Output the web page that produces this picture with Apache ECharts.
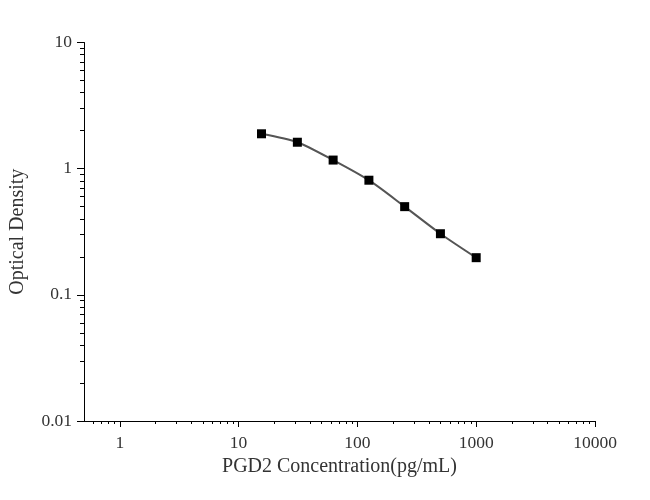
<!DOCTYPE html>
<html>
<head>
<meta charset="utf-8">
<script src="https://cdn.jsdelivr.net/npm/echarts@6/dist/echarts.min.js"></script>
<style>html,body{margin:0;padding:0;background:#fff;}#c{width:650px;height:500px;}</style>
</head>
<body>
<div id="c"></div>
<script>
// Data
var concentrations = [15.6, 31.25, 62.5, 125, 250, 500, 1000];
var odValues = [1.89, 1.62, 1.17, 0.81, 0.50, 0.305, 0.197];
var xMajorTicks = [1, 10, 100, 1000, 10000];
var yMajorTicks = [0.01, 0.1, 1, 10];
var xTickLabels = ['1', '10', '100', '1000', '10000'];
var yTickLabels = ['0.01', '0.1', '1', '10'];

function minorTicks(lo, hi) {
  var out = [];
  for (var d = lo; d < hi; d *= 10) {
    for (var k = 2; k <= 9; k++) {
      var v = +(k * d).toPrecision(6);
      out.push(v);
    }
  }
  return out;
}
var xMinor = minorTicks(0.1, 10000).filter(function (v) { return v > 0.5 && v < 10000; });
var yMinor = minorTicks(0.01, 10);

var serif = 'Liberation Serif';
var chart = echarts.init(document.getElementById('c'));
var axisLineStyle = { color: '#000', width: 1 };
function labelFmt(ticks, labels) {
  return function (v) {
    for (var i = 0; i < ticks.length; i++) {
      if (Math.abs(v - ticks[i]) / ticks[i] < 1e-6) return labels[i];
    }
    return '';
  };
}
chart.setOption({
  animation: false,
  grid: { left: 80, right: 55, top: 42.5, bottom: 79 },
  xAxis: [{
    type: 'log', logBase: 10, min: 0.5, max: 10000,
    name: 'PGD2 Concentration(pg/mL)', nameLocation: 'middle', nameGap: 36,
    nameTextStyle: { fontFamily: serif, fontSize: 20, color: '#333' },
    axisLine: { show: true, onZero: false, lineStyle: axisLineStyle },
    axisTick: { show: true, inside: false, length: 6, customValues: xMajorTicks, lineStyle: axisLineStyle },
    axisLabel: { show: true, margin: 13, customValues: xMajorTicks, formatter: labelFmt(xMajorTicks, xTickLabels),
      fontFamily: serif, fontSize: 17.5, color: '#333' },
    splitLine: { show: false }, minorTick: { show: false }
  }, {
    type: 'log', logBase: 10, min: 0.5, max: 10000, position: 'bottom', gridIndex: 0,
    axisLine: { show: false, onZero: false },
    axisTick: { show: true, inside: false, length: 3, customValues: xMinor, lineStyle: axisLineStyle },
    axisLabel: { show: false }, splitLine: { show: false }
  }],
  yAxis: [{
    type: 'log', logBase: 10, min: 0.01, max: 10,
    name: 'Optical Density', nameLocation: 'middle', nameGap: 56,
    nameTextStyle: { fontFamily: serif, fontSize: 20, color: '#333' },
    axisLine: { show: true, onZero: false, lineStyle: axisLineStyle },
    axisTick: { show: true, inside: false, length: 7, customValues: yMajorTicks, lineStyle: axisLineStyle },
    axisLabel: { show: true, margin: 12, customValues: yMajorTicks, formatter: labelFmt(yMajorTicks, yTickLabels),
      fontFamily: serif, fontSize: 17.5, color: '#333' },
    splitLine: { show: false }, minorTick: { show: false }
  }, {
    type: 'log', logBase: 10, min: 0.01, max: 10, position: 'left', gridIndex: 0,
    axisLine: { show: false, onZero: false },
    axisTick: { show: true, inside: false, length: 4, customValues: yMinor, lineStyle: axisLineStyle },
    axisLabel: { show: false }, splitLine: { show: false }
  }],
  series: [{
    type: 'line', xAxisIndex: 0, yAxisIndex: 0,
    data: concentrations.map(function (c, i) { return [c, odValues[i]]; }),
    smooth: 0.25,
    symbol: 'rect', symbolSize: 9,
    lineStyle: { color: '#555', width: 2 },
    itemStyle: { color: '#000' }
  }]
});
</script>
</body>
</html>
